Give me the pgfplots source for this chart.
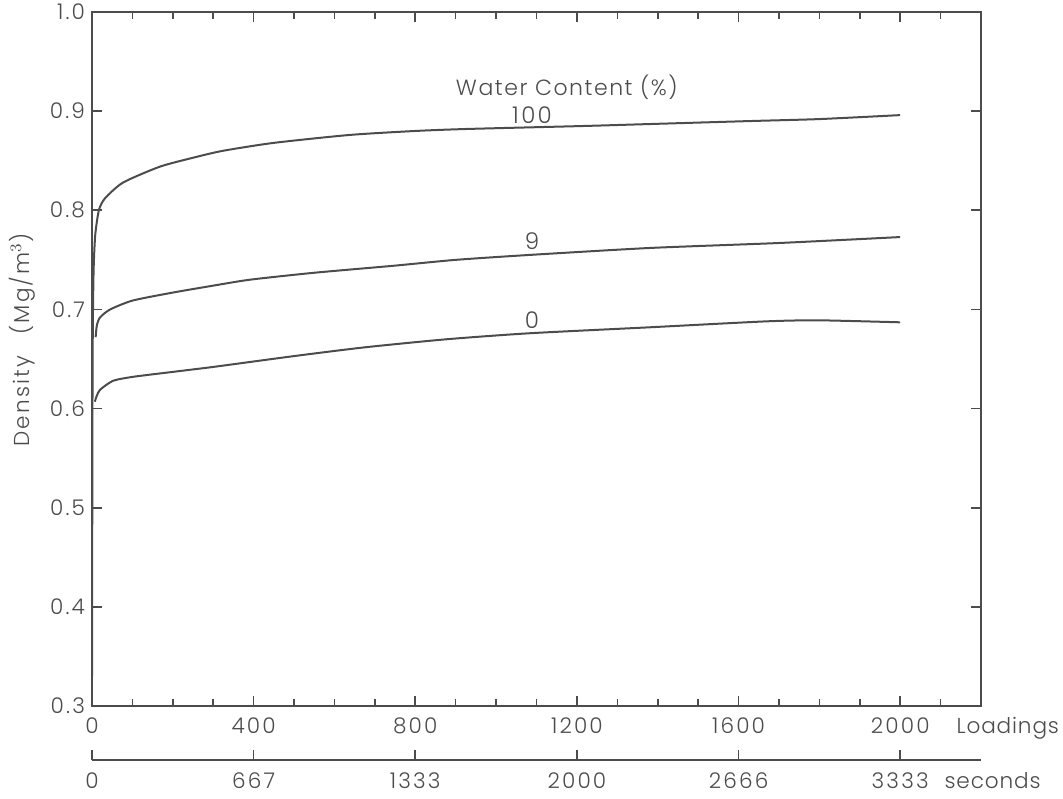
\documentclass[border=0pt]{standalone}
\usepackage{fontspec}
\setmainfont{Poppins Light}[LetterSpace=10]
\newfontfamily\tightfont{Poppins Light}[LetterSpace=4]
\newfontfamily\midfont{Poppins Light}[LetterSpace=7]
\usepackage{pgfplots}
\pgfplotsset{compat=1.18}
\definecolor{ink}{gray}{0.3}
\tikzset{curve/.style={ink, line width=1pt, smooth, tension=0.4, mark=none}}
\begin{document}
\begin{tikzpicture}[font=\fontsize{10.8}{12}\selectfont, color=ink]
\path[use as bounding box] (0,0) rectangle (531.5pt,399pt);
\begin{axis}[
  at={(46pt,46pt)}, anchor=south west,
  scale only axis, width=444.5pt, height=347pt,
  xmin=0, xmax=2200, ymin=0.3, ymax=1.0,
  xtick={0,400,...,2000},
  minor xtick={100,200,300,500,600,700,900,1000,1100,1300,1400,1500,1700,1800,1900,2100},
  ytick={0.3,0.4,...,1.0},
  yticklabel style={/pgf/number format/fixed,/pgf/number format/fixed zerofill,/pgf/number format/precision=1},
  /pgf/number format/assume math mode=true,
  /pgf/number format/1000 sep={},
  xticklabel style={anchor=base, yshift=-13.5pt},
  tick align=inside,
  major tick length=5pt, minor tick length=3.5pt,
  every tick/.style={ink, line width=0.8pt},
  axis line style={ink, line width=0.9pt},
  ylabel={Density\quad(Mg/m$^3$)},
  ylabel style={at={(axis description cs:-0.079,0.527)}, anchor=center},
  clip=false,
]
% Water content 100 %
\addplot[curve] coordinates {
(0,0.33) (0.5,0.45) (1,0.58) (2,0.68) (4,0.74) (8,0.775) (17,0.800) (32,0.812)
(77,0.828) (168,0.844) (250,0.853) (324,0.860) (450,0.868) (638,0.876) (800,0.880) (927,0.882)
(1215,0.885) (1381,0.887) (1628,0.890) (1800,0.892) (2000,0.896)};
% Water content 9 %
\addplot[curve] coordinates {
(9,0.672) (12,0.684) (20,0.692) (45,0.700) (101,0.709) (200,0.717) (300,0.724)
(391,0.730) (550,0.737) (745,0.744) (900,0.750) (1084,0.755) (1381,0.762) (1700,0.767) (2000,0.773)};
% Water content 0 %
\addplot[curve] coordinates {
(7,0.607) (12,0.613) (20,0.619) (52,0.628) (101,0.632) (200,0.637) (300,0.642)
(391,0.647) (520,0.654) (680,0.662) (880,0.670) (1084,0.676) (1381,0.682) (1670,0.688)
(1800,0.689) (2000,0.687)};
\node[font=\midfont\fontsize{11}{13}\selectfont] at (axis cs:1175,0.924) {Water Content (\%)};
\node[font=\fontsize{11.5}{13}\selectfont, anchor=base, inner sep=0pt] at (axis cs:1089,0.888) {100};
\node[font=\fontsize{11.5}{13}\selectfont, anchor=base, inner sep=0pt] at (axis cs:1089,0.760) {9};
\node[font=\fontsize{11.5}{13}\selectfont, anchor=base, inner sep=0pt] at (axis cs:1089,0.681) {0};
\node[font=\tightfont\fontsize{10.8}{12}\selectfont, anchor=base west, inner sep=0pt] at (axis cs:2000,0.3) [xshift=28pt, yshift=-13.5pt] {Loadings};
\end{axis}
\begin{axis}[
  at={(46pt,19pt)}, anchor=south west,
  scale only axis, width=444.5pt, height=1pt,
  xmin=0, xmax=2200, ymin=0, ymax=1,
  axis x line*=bottom, axis y line=none,
  axis line style={ink, line width=0.9pt, -},
  xtick={0,400,...,2000},
  xticklabels={0,667,1333,2000,2666,3333},
  xticklabel style={anchor=base, yshift=-14pt},
  tick align=inside, major tick length=5pt,
  every tick/.style={ink, line width=0.8pt},
  clip=false,
]
\node[font=\tightfont\fontsize{10.8}{12}\selectfont, anchor=base west, inner sep=0pt] at (axis cs:2000,0) [xshift=22pt, yshift=-14pt] {seconds};
\end{axis}
\end{tikzpicture}
\end{document}
